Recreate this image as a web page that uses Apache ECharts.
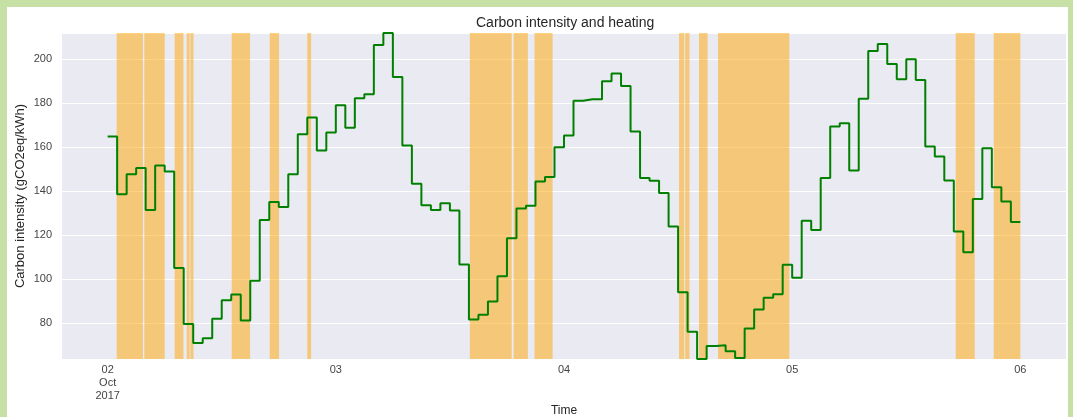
<!DOCTYPE html>
<html>
<head>
<meta charset="utf-8">
<title>Carbon intensity and heating</title>
<script src="https://cdn.jsdelivr.net/npm/echarts@6/dist/echarts.min.js"></script>
<style>
  html, body { margin: 0; padding: 0; background: #fff; }
  #chart { position: absolute; left: 0; top: 0; width: 1073px; height: 417px; }
  .frame { position: absolute; background: #c6e0a6; pointer-events: none; }
</style>
</head>
<body>
<div id="chart"></div>
<div class="frame" style="left:0;top:0;width:1073px;height:7px"></div>
<div class="frame" style="left:0;top:0;width:7px;height:417px"></div>
<div class="frame" style="left:1068px;top:0;width:5px;height:417px"></div>
<script>
// hourly readings, Oct 2 2017 00:00 -> Oct 6 2017 00:00 (hours since start)
const hours = Array.from({ length: 97 }, (_, i) => i);

// carbon intensity (gCO2eq/kWh)
const carbon = [
  164.8, 138.6, 147.7, 150.5, 131.4, 151.7, 148.9, 105.0, 79.5, 70.8,
  72.9, 81.8, 90.3, 92.9, 81.0, 99.2, 126.8, 135.0, 132.7, 147.7,
  165.9, 173.5, 158.5, 166.7, 179.1, 168.8, 182.3, 184.1, 206.5, 212.0,
  192.0, 160.8, 143.3, 133.5, 131.4, 134.5, 131.1, 106.5, 81.5, 83.6,
  89.7, 101.2, 118.5, 132.0, 133.3, 144.4, 146.4, 160.0, 165.3, 181.1,
  181.8, 181.8, 190.0, 193.5, 187.9, 167.1, 145.9, 144.7, 139.1, 123.8,
  93.9, 75.9, 63.5, 69.4, 69.8, 67.0, 64.0, 77.4, 86.0, 91.4,
  93.0, 106.4, 100.5, 126.5, 122.3, 145.9, 169.4, 170.9, 149.4, 182.0,
  203.8, 207.0, 197.9, 190.9, 200.0, 190.6, 160.3, 155.8, 144.8, 121.6,
  112.1, 136.4, 159.5, 141.7, 135.2, 125.9, 125.9
];

// heating on periods [start, end] in hours since start
const heatingOn = [
  [0.95, 3.71], [3.86, 6.0], [7.05, 7.97], [8.32, 8.62], [8.7, 9.03],
  [13.05, 14.98], [17.05, 18.03], [21.0, 21.4], [38.1, 42.5], [42.7, 44.2],
  [44.9, 46.8], [60.1, 60.65], [60.75, 61.2], [62.2, 63.1], [64.2, 71.7],
  [89.2, 91.2], [93.2, 96.0]
];

// x tick labels
const tickHours = [0, 24, 48, 72, 96];
const tickLabels = ['02\nOct\n2017', '03', '04', '05', '06'];

const chart = echarts.init(document.getElementById('chart'));
const font = '"Liberation Sans", Arial, sans-serif';

chart.setOption({
  animation: false,
  backgroundColor: '#fff',
  title: {
    text: 'Carbon intensity and heating',
    left: 471,
    top: 11,
    textStyle: { fontFamily: font, fontSize: 14, fontWeight: 'normal', color: '#262626' }
  },
  grid: {
    left: 62, right: 7, top: 33, bottom: 58,
    outerBoundsMode: 'none',
    containLabel: false,
    show: true, backgroundColor: '#eaeaf2', borderWidth: 0
  },
  xAxis: {
    type: 'value',
    min: -4.8,
    max: 100.8,
    name: 'Time',
    nameLocation: 'middle',
    nameGap: 46,
    nameMoveOverlap: false,
    nameTextStyle: { fontFamily: font, fontSize: 12, color: '#262626' },
    axisLine: { show: false },
    axisTick: { show: false },
    splitLine: { show: false },
    axisLabel: {
      customValues: tickHours,
      formatter: v => tickLabels[tickHours.indexOf(v)] || '',
      margin: 4,
      lineHeight: 13,
      fontFamily: font,
      fontSize: 11,
      color: '#444'
    }
  },
  yAxis: {
    type: 'value',
    min: 63.5,
    max: 212,
    splitNumber: 7,
    name: 'Carbon intensity (gCO2eq/kWh)',
    nameLocation: 'middle',
    nameGap: 35,
    nameMoveOverlap: false,
    nameTextStyle: { fontFamily: font, fontSize: 13, color: '#262626' },
    axisLine: { show: false },
    axisTick: { show: false },
    splitLine: { lineStyle: { color: '#fff', width: 1 } },
    axisLabel: {
      formatter: v => (v % 20 === 0 ? String(v) : ''),
      margin: 10,
      fontFamily: font,
      fontSize: 11,
      color: '#444'
    }
  },
  series: [
    {
      name: 'heating',
      type: 'line',
      data: [],
      z: 1,
      markArea: {
        silent: true,
        itemStyle: { color: 'rgba(255,165,0,0.5)' },
        data: heatingOn.map(([a, b]) => [{ xAxis: a }, { xAxis: b }])
      }
    },
    {
      name: 'carbon',
      type: 'line',
      step: 'end',
      z: 3,
      showSymbol: false,
      data: hours.map((h, i) => [h, carbon[i]]),
      lineStyle: { color: '#008000', width: 2 }
    }
  ]
});
</script>
</body>
</html>
